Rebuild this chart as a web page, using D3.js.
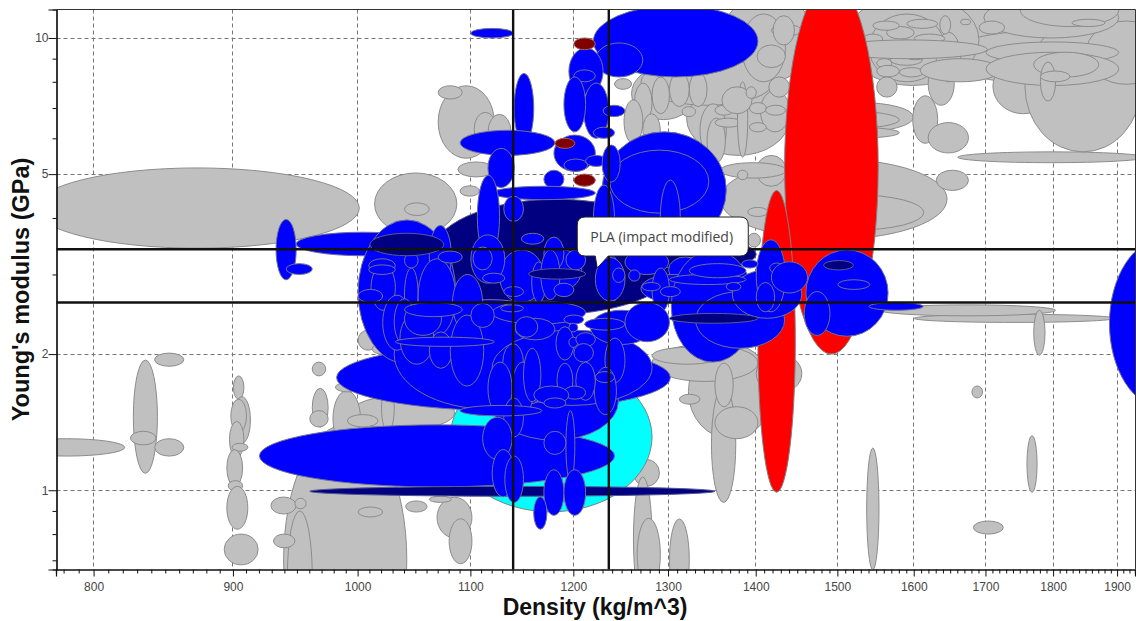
<!DOCTYPE html>
<html>
<head>
<meta charset="utf-8">
<script src="https://cdn.jsdelivr.net/npm/d3@7"></script>
<style>
html, body { margin: 0; padding: 0; background: #fff; }
svg { display: block; }
text { font-family: "Liberation Sans", Arial, sans-serif; }
</style>
</head>
<body>
<div id="chart"></div>
<script>
// every row is [density low, density high, modulus low, modulus high]
const greyRanges = [
	[761,1001,3.43,5.16], [939,1042,0.353,1.395], [1014,1087,3.67,5.03], [1040,1062,4.05,4.32],
	[744,821,1.19,1.30], [827,844,1.09,1.94], [825,843,1.26,1.35], [842,863,1.19,1.30], [842,863,1.88,2.01],
	[900,908,1.59,1.79], [900,913,1.27,1.61], [898,910,1.34,1.59], [897,908,1.18,1.42], [899,911,1.22,1.27],
	[895,907,1.02,1.23], [896,907,0.997,1.05], [895,911,0.82,1.02], [893,919,0.684,0.80],
	[942,962,0.467,0.90], [929,949,0.886,0.966], [948,957,0.91,0.96], [931,948,0.746,0.80], [1000,1021,0.873,0.918],
	[962,973,1.79,1.92], [962,975,1.38,1.68], [960,975,1.38,1.50], [994,1085,1.36,1.62], [979,1002,1.25,1.66],
	[991,1017,1.38,1.47], [1020,1031,1.35,1.70], [1000,1017,2.04,2.26], [1012,1028,2.0,2.11], [981,1002,1.65,1.73],
	[1069,1101,0.785,0.965], [1080,1101,0.688,0.865], [1041,1060,0.895,0.947], [1062,1082,0.94,0.97],
	[1070,1122,5.42,7.84], [1070,1092,7.33,7.84], [1103,1124,5.75,6.85], [1116,1138,5.65,6.78],
	[1088,1122,4.93,5.32], [1090,1108,4.47,4.71],
	// top middle cluster
	[1360,1470,8.0,12.5], [1320,1440,5.5,8.0], [1260,1330,6.6,8.6],
	[1270,1420,7.1,9.0], [1383,1435,8.0,11.3], [1242,1260,7.7,8.13], [1263,1282,6.5,7.95], [1282,1301,6.8,8.2],
	[1301,1323,7.05,8.4], [1323,1343,7.05,8.4], [1252,1272,5.85,7.3], [1272,1291,5.75,6.8], [1315,1330,6.7,7.05],
	[1335,1365,5.45,7.15], [1343,1364,5.3,6.65], [1352,1383,6.35,6.65], [1352,1373,6.75,7.1], [1378,1390,5.45,8.0],
	[1360,1395,6.8,7.8], [1405,1440,6.2,7.65], [1415,1440,7.4,8.2], [1392,1412,6.2,6.5], [1392,1412,6.8,7.2],
	[1388,1400,7.35,7.8], [1411,1435,6.75,7.1], [1401,1435,8.6,9.65], [1418,1455,10.1,10.7], [1420,1446,9.65,11.2],
	// right of the big red one
	[1358,1645,3.59,5.4], [1435,1613,3.76,4.5], [1400,1436,4.7,5.5], [1358,1436,4.9,5.3], [1378,1390,4.86,5.1],
	[1390,1414,4.03,4.22], [1390,1405,3.45,3.7],
	[1545,1960,10.0,12.6], [1640,1960,7.9,10.4], [1510,1690,7.85,12.5],
	[1540,1642,8.0,11.3], [1460,1599,6.2,7.2], [1440,1580,6.3,6.9], [1460,1580,6.0,6.35],
	[1598,1632,5.85,7.45], [1619,1675,5.57,6.5], [1619,1655,7.1,8.85], [1630,1664,8.0,10.3], [1635,1650,10.2,11.2],
	[1664,1678,10.7,11.0], [1590,1632,10.5,11.0], [1563,1600,9.95,10.6], [1600,1642,9.75,10.2], [1573,1605,9.4,9.9],
	[1532,1558,9.7,10.2], [1550,1570,8.6,9.0], [1568,1611,8.7,9.2], [1550,1580,8.2,8.7], [1580,1613,8.2,8.6],
	[1585,1619,8.95,9.45], [1545,1580,10.4,10.9], [1550,1577,7.4,8.2],
	[1608,1720,8.0,9.0], [1490,1702,9.0,9.9], [1710,1800,6.8,9.0], [1757,1938,5.6,10.9], [1850,1980,7.9,10.9],
	[1697,1902,10.0,12.3], [1750,1902,10.6,12.5], [1690,1727,10.2,10.9], [1828,1880,10.6,11.0],
	[1700,1902,8.8,9.8], [1700,1902,7.85,9.3], [1770,1870,8.2,9.3], [1780,1803,7.25,8.85], [1780,1825,8.0,8.45],
	[1660,1945,5.3,5.6], [1630,1675,4.6,5.1],
	// lower right strays
	[1600,1895,2.35,2.45], [1555,1803,2.43,2.57], [1770,1787,1.99,2.5], [1680,1695,1.6,1.7], [1760,1775,0.99,1.32],
	[1537,1553,0.667,1.24], [1682,1725,0.80,0.855],
	// under the blue, right of centre
	[1262,1290,1.02,1.17], [1262,1282,0.57,1.07], [1266,1291,0.6,0.867], [1301,1323,0.57,0.864],
	[1322,1420,1.3,2.1], [1282,1402,1.74,2.1], [1282,1360,1.9,2.07], [1400,1455,1.64,2.0],
	[1348,1376,0.94,1.7], [1352,1373,1.53,1.91], [1352,1402,1.30,1.53], [1312,1335,1.55,1.63]
];
const cyanRanges = [[1081,1282,0.896,1.92]];
const redRanges = [[1434,1552,2.0,13.4], [1402,1447,0.99,4.6]];
const navyBackRanges = [[1063,1315,2.45,4.4], [1270,1400,3.07,3.6]];
const blueRanges = [
	[982,1302,1.5,2.1], [920,1242,1.017,1.395], [1118,1246,1.29,1.92],
	[1100,1140,10.0,10.5], [1220,1402,8.2,11.8], [1222,1272,8.2,9.75], [1195,1230,7.5,9.5], [1200,1222,8.0,8.5],
	[1210,1236,6.0,7.95], [1190,1212,6.2,8.2], [1230,1253,6.7,7.1], [1141,1160,5.85,8.35], [1090,1181,5.5,6.25],
	[1180,1222,5.07,6.1], [1220,1242,6.0,6.35], [1190,1214,5.07,5.4], [1212,1234,5.2,5.5], [1170,1190,4.65,5.1],
	[1229,1365,3.43,6.2], [1237,1345,4.1,5.65], [1229,1248,4.8,5.8], [1291,1313,3.3,4.85],
	[1120,1222,4.39,4.7], [1116,1141,4.67,5.7], [1106,1127,3.27,4.97], [1131,1150,3.93,4.47], [1220,1242,3.35,4.73],
	[933,949,2.92,3.97], [941,962,3.0,3.17], [949,1062,3.3,3.72],
	[1000,1086,1.9,3.96], [1031,1212,1.51,2.64], [1120,1282,1.54,2.26],
	// fill around the crosshairs
	[1127,1170,2.6,3.4], [1170,1208,2.78,3.4], [1120,1212,2.33,2.62], [1217,1282,2.1,2.5], [1253,1300,3.0,3.4],
	[1300,1338,2.88,3.28], [1270,1345,2.6,3.0], [1232,1247,2.6,3.3], [1103,1116,3.05,3.4], [1158,1172,2.6,3.2],
	[1062,1082,2.83,3.85], [1100,1132,2.87,3.67], [1102,1120,3.07,3.45], [1148,1170,3.5,3.7], [1170,1190,3.07,3.63],
	[1167,1186,2.64,3.4], [1192,1212,3.07,3.4], [1222,1253,2.62,3.27], [1240,1253,2.88,3.1], [1257,1269,2.9,3.07],
	[1011,1032,2.5,3.15], [1040,1052,2.38,3.1], [1052,1086,2.2,3.25], [1083,1111,2.24,3.0], [1021,1046,2.04,2.7],
	[1031,1049,2.1,2.65], [1036,1066,1.9,2.47], [1062,1083,1.86,2.24], [1081,1112,1.7,2.44], [1040,1073,2.2,2.6],
	[1040,1092,2.42,2.6], [1100,1122,2.29,2.59], [1032,1122,2.08,2.18], [1128,1150,2.48,2.57], [1130,1150,1.73,2.11],
	[1142,1181,2.15,2.4], [1142,1164,2.18,2.42], [1116,1139,1.47,1.92], [1139,1160,1.47,1.92], [1150,1167,1.57,2.06],
	[1131,1150,2.68,2.82], [1180,1200,2.68,2.87], [1009,1032,3.03,3.25], [1009,1032,3.0,3.15], [1000,1021,2.6,2.78],
	[1040,1052,3.1,3.35], [1070,1092,3.18,3.38], [1111,1132,2.87,3.02],
	[1182,1200,1.94,2.3], [1190,1210,2.33,2.44], [1195,1204,2.24,2.34], [1195,1204,2.07,2.18], [1202,1222,2.08,2.23],
	[1200,1220,1.92,2.11], [1211,1253,2.26,2.4], [1232,1253,1.73,2.17], [1221,1244,1.47,1.87], [1222,1242,1.73,1.83],
	[1202,1222,1.58,1.92], [1183,1199,1.6,1.91], [1190,1212,1.59,1.7], [1160,1195,1.55,1.7], [1170,1192,1.52,1.6],
	[1192,1201,1.05,1.5], [1170,1192,1.2,1.35], [1131,1150,1.31,1.6], [1111,1139,1.17,1.45], [1090,1168,1.46,1.54],
	// right half of the mass
	[1303,1398,1.92,3.4], [1330,1434,2.06,2.75], [1372,1455,2.4,3.07], [1400,1435,2.48,3.58], [1400,1422,2.48,2.88],
	[1301,1388,2.85,3.0], [1323,1388,2.95,3.17], [1416,1433,3.02,3.18], [1383,1402,3.1,3.23], [1365,1382,2.76,2.88],
	[1282,1301,2.48,3.1], [1271,1291,2.76,2.88], [1291,1313,2.68,2.82],
	[1460,1565,2.19,3.4], [1418,1462,2.73,3.2], [1458,1490,2.2,2.75], [1500,1541,2.78,2.92],
	[1540,1612,2.5,2.6], [1887,2070,1.52,3.6]
];
const navyFrontRanges = [
	[960,1352,0.97,1.02], [1301,1402,2.34,2.46], [1155,1212,2.93,3.09], [1010,1075,3.3,3.7], [1482,1520,3.07,3.22]
];
const blueFrontRanges = [
	[1253,1301,2.13,2.6], [1120,1141,0.967,1.23], [1132,1150,0.94,1.19], [1170,1190,0.88,1.11], [1190,1212,0.88,1.11],
	[1160,1173,0.82,0.967]
];
const maroonRanges = [[1200,1222,9.42,10.0], [1181,1201,5.7,6.0], [1200,1222,4.7,5.0]];

const densityTicks = [800,900,1000,1100,1200,1300,1400,1500,1600,1700,1800,1900];
const modulusTicks = [1,2,5,10];
const modulusMinor = [0.7,0.8,0.9,3,4,6,7,8,9];
const densityCross = [1140,1236];
const modulusCross = [3.41,2.6];
const tipLabel = "PLA (impact modified)";
const tipPoint = [1224,3.1];

var densityMinor = d3.range(780,1930,10).filter(function(d) { return d % 100 !== 0; });

var width = 1136, height = 621;
var left = 56.5, right = 1135.5, top_ = 9.5, bottom = 569.5;

var x = d3.scaleLog().domain([775,1929]).range([left,right]);
var y = d3.scaleLog().domain([0.668,11.56]).range([bottom,top_]);

var svg = d3.select("#chart").append("svg")
	.attr("width",width)
	.attr("height",height);

svg.append("clipPath").attr("id","plot").append("rect")
	.attr("x",left).attr("y",top_).attr("width",right-left).attr("height",bottom-top_);

// grid
var grid = svg.append("g").attr("fill","none").attr("stroke","#777").attr("stroke-dasharray","4 3");
grid.selectAll(".gx").data(densityTicks).enter().append("line")
	.attr("x1",function(d) { return Math.round(x(d))-0.5; }).attr("x2",function(d) { return Math.round(x(d))-0.5; })
	.attr("y1",top_).attr("y2",bottom);
grid.selectAll(".gy").data(modulusTicks).enter().append("line")
	.attr("y1",function(d) { return Math.round(y(d))+0.5; }).attr("y2",function(d) { return Math.round(y(d))+0.5; })
	.attr("x1",left).attr("x2",right);

var marks = svg.append("g").attr("clip-path","url(#plot)");

function addEllipses(rows, fill, stroke) {
	marks.append("g").selectAll("ellipse")
		.data(rows)
		.enter().append("ellipse")
		.attr("cx",function(d) { return (x(d[0])+x(d[1]))/2; })
		.attr("cy",function(d) { return (y(d[2])+y(d[3]))/2; })
		.attr("rx",function(d) { return (x(d[1])-x(d[0]))/2; })
		.attr("ry",function(d) { return (y(d[2])-y(d[3]))/2; })
		.style("fill",fill)
		.style("stroke",stroke)
		.style("stroke-width",1);
}

addEllipses(greyRanges,"#c0c0c0","#8c8c8c");
addEllipses(cyanRanges,"#00ffff","#808080");
addEllipses(redRanges,"#ff0000","#808080");
addEllipses(navyBackRanges,"#000080","#5a5a90");
addEllipses(blueRanges,"#0000ff","#707090");
addEllipses(navyFrontRanges,"#000080","#5a5a90");
addEllipses(blueFrontRanges,"#0000ff","#707090");
addEllipses(maroonRanges,"#800000","#a06060");

// crosshairs
var cross = svg.append("g").attr("stroke","#111").attr("stroke-width",2.4);
cross.selectAll(".cx").data(densityCross).enter().append("line")
	.attr("x1",function(d) { return x(d); }).attr("x2",function(d) { return x(d); })
	.attr("y1",top_).attr("y2",bottom);
cross.selectAll(".cy").data(modulusCross).enter().append("line")
	.attr("y1",function(d) { return y(d); }).attr("y2",function(d) { return y(d); })
	.attr("x1",left).attr("x2",right);

// axes
function styleAxis(g) {
	g.select(".domain").attr("stroke","#111").attr("stroke-width",1.2);
	g.selectAll(".tick line").attr("stroke","#111");
	g.selectAll("text").attr("fill","#454545").style("font-size","12px").style("font-family","'Liberation Sans', Arial, sans-serif");
}
var fmt = function(d) { return d; };
svg.append("g").attr("transform","translate(-0.5,"+bottom+")")
	.call(d3.axisBottom(x).tickValues(densityMinor).tickSize(4).tickFormat(""))
	.call(styleAxis);
svg.append("g").attr("transform","translate(-0.5,"+bottom+")")
	.call(d3.axisBottom(x).tickValues(densityTicks).tickSize(7).tickPadding(6).tickFormat(fmt))
	.call(styleAxis);
svg.append("g").attr("transform","translate("+left+",0)")
	.call(d3.axisLeft(y).tickValues(modulusMinor).tickSize(4).tickFormat(""))
	.call(styleAxis);
svg.append("g").attr("transform","translate("+left+",0)")
	.call(d3.axisLeft(y).tickValues(modulusTicks).tickSize(8).tickPadding(0).tickFormat(fmt))
	.call(styleAxis);

svg.append("path")
	.attr("d","M"+left+","+top_+"H"+right+"V"+bottom)
	.attr("fill","none").attr("stroke","#333").attr("stroke-width",1);

svg.append("text")
	.attr("x",595).attr("y",615)
	.attr("text-anchor","middle")
	.style("font-size","23px").style("font-weight","bold").style("fill","#111")
	.text("Density (kg/m^3)");
svg.append("text")
	.attr("transform","translate(29,289.5) rotate(-90)")
	.attr("text-anchor","middle")
	.style("font-size","23.5px").style("font-weight","bold").style("fill","#111")
	.text("Young's modulus (GPa)");

// tooltip, positioned off the hovered point
var tx = x(tipPoint[0]), ty = y(tipPoint[1]);
var tip = svg.append("g").attr("transform","translate("+tx+","+ty+")");
tip.append("path")
	.attr("d","M-12,-12 H-2 L0,0 L11,-12 H143 Q151,-12 151,-20 V-43 Q151,-51 143,-51 H-12 Q-20,-51 -20,-43 V-20 Q-20,-12 -12,-12 Z")
	.attr("fill","#fff").attr("stroke","#222").attr("stroke-width",1);
tip.append("text")
	.attr("x",-7).attr("y",-26)
	.style("font-family","'Open Sans', 'Noto Sans', sans-serif")
	.style("font-size","14px").style("fill","#444")
	.text(tipLabel);
</script>
</body>
</html>
